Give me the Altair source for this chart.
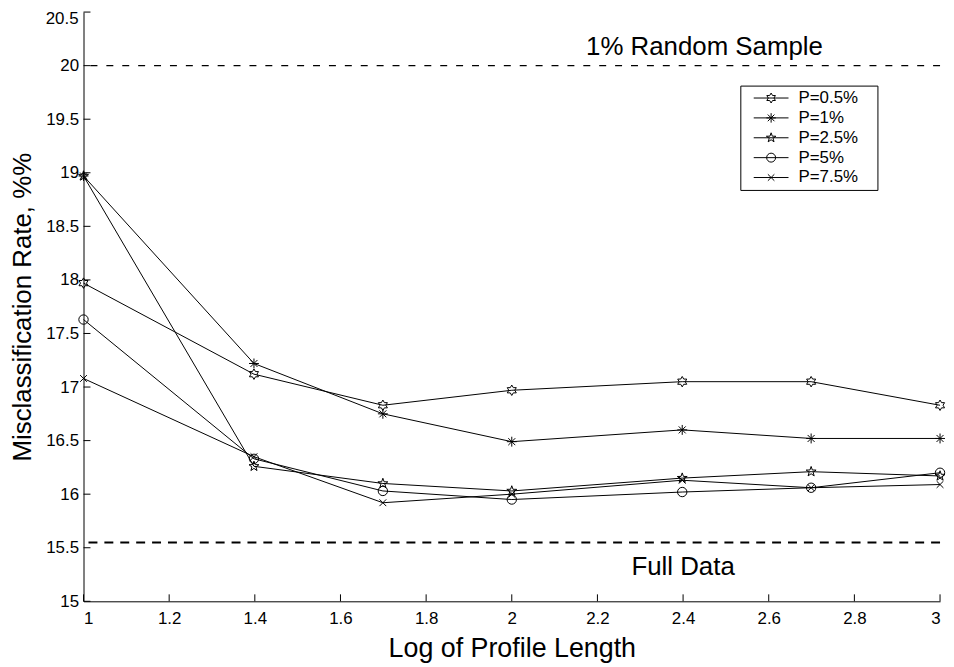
import altair as alt
import pandas as pd
import numpy as np

# ---------------- data ----------------
x_log = [1.0, 1.398, 1.699, 2.0, 2.398, 2.699, 3.0]
series = ["P=0.5%", "P=1%", "P=2.5%", "P=5%", "P=7.5%"]
p05 = [17.97, 17.12, 16.83, 16.97, 17.05, 17.05, 16.83]
p1 = [18.97, 17.22, 16.75, 16.49, 16.60, 16.52, 16.52]
p25 = [18.97, 16.26, 16.10, 16.03, 16.15, 16.21, 16.17]
p5 = [17.63, 16.33, 16.03, 15.95, 16.02, 16.06, 16.20]
p75 = [17.08, 16.35, 15.92, 16.00, 16.13, 16.06, 16.09]
random_sample_rate = [20.0]
full_data_rate = [15.55]
annot_text = ["1% Random Sample", "Full Data"]
annot_x = [2.45, 2.40]
annot_y = [20.10, 15.25]
x_ticks = [1.0, 1.2, 1.4, 1.6, 1.8, 2.0, 2.2, 2.4, 2.6, 2.8, 3.0]
y_ticks = [15.0, 15.5, 16.0, 16.5, 17.0, 17.5, 18.0, 18.5, 19.0, 19.5, 20.0, 20.5]

rows = []
for name, vals in zip(series, [p05, p1, p25, p5, p75]):
    for xv, yv in zip(x_log, vals):
        rows.append({"x": xv, "y": yv, "series": name})
df = pd.DataFrame(rows)
ref_top = pd.DataFrame({"y": random_sample_rate})
ref_bot = pd.DataFrame({"y": full_data_rate})
annot = pd.DataFrame({"x": annot_x, "y": annot_y, "text": annot_text})
xt = pd.DataFrame({"x": x_ticks})
yt = pd.DataFrame({"y": y_ticks})
y_top_label = pd.DataFrame({"y": [max(y_ticks)], "text": [f"{max(y_ticks):g}"]})

# ---------------- marker shapes ----------------
def star_path(n, r_in):
    pts = []
    for k in range(2 * n):
        a = np.deg2rad(-90 + k * 180.0 / n)
        r = 1.0 if k % 2 == 0 else r_in
        pts.append((r * np.cos(a), r * np.sin(a)))
    return "M" + "L".join(f"{px:.3f},{py:.3f}" for px, py in pts) + "Z"

hexagram = star_path(6, 0.577)
asterisk = "M0,-0.95V0.95M-0.95,0H0.95M-0.67,-0.67L0.67,0.67M-0.67,0.67L0.67,-0.67"
pentagram = star_path(5, 0.40)
circle = "M0.9,0A0.9,0.9,0,1,1,-0.9,0A0.9,0.9,0,1,1,0.9,0Z"
xmark = "M-0.65,-0.65L0.65,0.65M-0.65,0.65L0.65,-0.65"
marker_paths = [hexagram, asterisk, pentagram, circle, xmark]
legend_paths = [p + "M-3.5,0H3.5" for p in marker_paths]

FONT = "Liberation Sans"
TICK_FS = 17
X_TITLE = "Log of Profile Length"
Y_TITLE = "Misclassification Rate, %%"
xscale = alt.Scale(domain=[1, 3], nice=False, zero=False)
yscale = alt.Scale(domain=[15, 20.5], nice=False, zero=False)
xaxis = alt.Axis(values=x_ticks, format="~f", grid=False, ticks=False,
                 labelPadding=9, titlePadding=10, titleFontSize=27)
yaxis = alt.Axis(values=y_ticks, format="~f", grid=False, ticks=False,
                 labelPadding=5, titlePadding=10, titleFontSize=26,
                 labelExpr="datum.value >= 20.5 ? '' : datum.label")

def X(field="x"):
    return alt.X(f"{field}:Q", scale=xscale, axis=xaxis, title=X_TITLE)

def Y(field="y"):
    return alt.Y(f"{field}:Q", scale=yscale, axis=yaxis, title=Y_TITLE)

lines = alt.Chart(df).mark_line(color="black", strokeWidth=1).encode(
    x=X(), y=Y(), detail="series:N"
)

points = alt.Chart(df).mark_point(filled=False, color="black", size=110,
                                  strokeWidth=1, opacity=1).encode(
    x=X(), y=Y(),
    shape=alt.Shape("series:N", scale=alt.Scale(domain=series, range=marker_paths),
                    legend=None),
)

NBSP = "\u00a0"
legend_layer = alt.Chart(df).transform_filter("false").mark_point(
    filled=False, color="black", size=100, strokeWidth=1, opacity=1
).encode(
    x=X(), y=Y(),
    shape=alt.Shape(
        "series:N",
        scale=alt.Scale(domain=series, range=legend_paths),
        legend=alt.Legend(
            title=NBSP, titleOrient="right", titlePadding=15, titleFontSize=8,
            orient="none", legendX=661, legendY=74,
            strokeColor="black", fillColor="white", padding=4,
            symbolOffset=18.5, labelOffset=19, symbolSize=100,
            symbolStrokeColor="black", symbolStrokeWidth=1,
            symbolFillColor="transparent",
            labelFont=FONT, labelFontSize=17, labelColor="black",
            rowPadding=2, cornerRadius=0,
        ),
    ),
)

top_rule = alt.Chart(ref_top).mark_rule(color="black", strokeWidth=1.2,
                                        strokeDash=[7, 9]).encode(y=Y())
bot_rule = alt.Chart(ref_bot).mark_rule(color="black", strokeWidth=2,
                                        strokeDash=[9, 7]).encode(y=Y())

texts = alt.Chart(annot).mark_text(font=FONT, fontSize=26, color="black",
                                   align="center", baseline="alphabetic").encode(
    x=X(), y=Y(), text="text:N"
)

top_label = alt.Chart(y_top_label).mark_text(
    font=FONT, fontSize=TICK_FS, color="black", align="right", baseline="top", dy=-1
).encode(y=Y(), x=alt.value(-5), text="text:N")

y_tick_marks = alt.Chart(yt).mark_rule(color="black", strokeWidth=1).encode(
    y=Y(), x=alt.value(0), x2=alt.value(7)
)
x_tick_marks = alt.Chart(xt).mark_rule(color="black", strokeWidth=1).encode(
    x=X(), y=alt.value(593), y2=alt.value(586)
)

chart = alt.layer(
    top_rule, bot_rule, lines, points, legend_layer, texts, top_label,
    y_tick_marks, x_tick_marks
).resolve_scale(shape="independent").properties(
    width=862, height=593,
    padding={"left": 76, "top": 2, "right": 6, "bottom": 62},
    autosize="none",
).configure_view(stroke=None).configure_axis(
    labelFont=FONT, labelFontSize=TICK_FS, labelColor="black",
    titleFont=FONT, titleFontWeight="normal", titleColor="black",
    domainColor="black", domainWidth=1,
)

chart.save("out.html", embed_options={"renderer": "svg", "actions": False})
